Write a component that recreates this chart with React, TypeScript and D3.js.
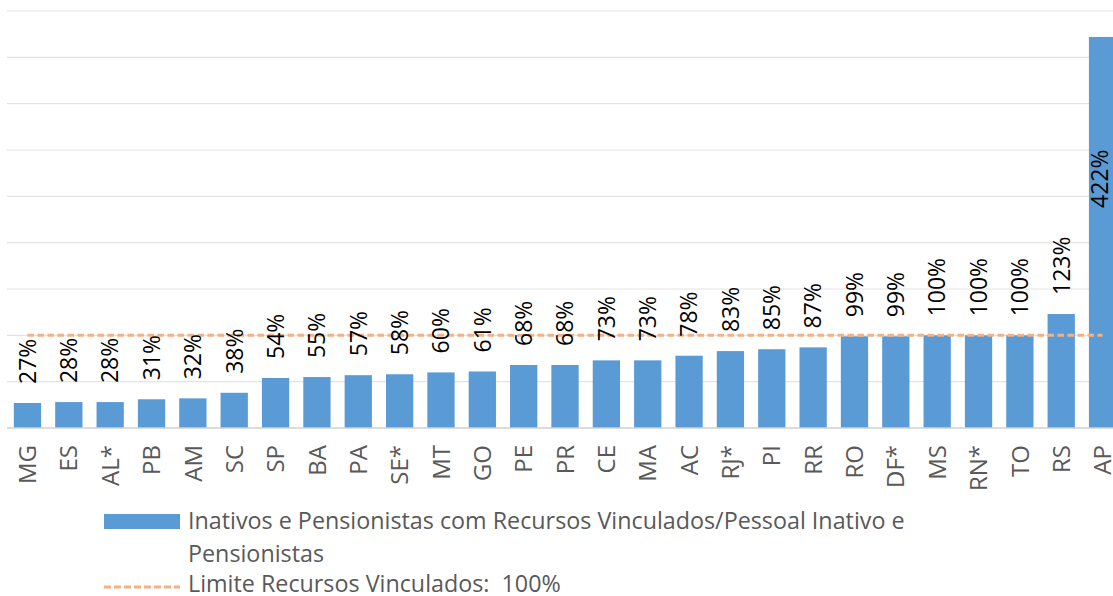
import React from "react";
import * as d3 from "d3";

const categories = ["MG","ES","AL*","PB","AM","SC","SP","BA","PA","SE*","MT","GO","PE","PR","CE","MA","AC","RJ*","PI","RR","RO","DF*","MS","RN*","TO","RS","AP"];
const values = [27,28,28,31,32,38,54,55,57,58,60,61,68,68,73,73,78,83,85,87,99,99,100,100,100,123,422];
const limitValue = 100;
const yTicks = [0,50,100,150,200,250,300,350,400,450];
const legendLine1 = "Inativos e Pensionistas com Recursos Vinculados/Pessoal Inativo e";
const legendLine2 = "Pensionistas";
const legendLine3 = "Limite Recursos Vinculados:  100%";

const W = 1113;
const H = 596;
const FONT = "'Open Sans', 'Noto Sans', sans-serif";
const BAR = "#5B9BD5";
const ORANGE = "#F4B183";

export default function App() {
  const step = 41.35;
  const left = 6.8;
  const x = d3
    .scaleBand<string>()
    .domain(categories)
    .range([left, left + step * categories.length])
    .paddingInner(0.34)
    .paddingOuter(0.17);
  const y = d3.scaleLinear().domain([0, 450]).range([428, 11]);
  const bw = x.bandwidth();
  const cx = (c: string) => (x(c) as number) + bw / 2;
  const plotTop = y(450);

  return (
    <svg
      width={W}
      height={H}
      style={{ position: "absolute", left: 0, top: 0, background: "#fff" }}
      fontFamily={FONT}
    >
      {yTicks.map((t) =>
        t === 0 ? null : (
          <line key={t} x1={7} x2={W} y1={y(t)} y2={y(t)} stroke="#E3E3E3" strokeWidth={1.2} />
        )
      )}
      {categories.map((c, i) => (
        <rect key={c} x={x(c)} y={y(values[i])} width={bw} height={y(0) - y(values[i])} fill={BAR} />
      ))}
      <line x1={7} x2={W} y1={y(0)} y2={y(0)} stroke="#D0D0D0" strokeWidth={1.6} />
      <line
        x1={cx(categories[0])}
        x2={cx(categories[categories.length - 1])}
        y1={y(limitValue)}
        y2={y(limitValue)}
        stroke={ORANGE}
        strokeWidth={3}
        strokeDasharray="6.5,3.5"
      />
      {categories.map((c, i) => {
        let start = y(values[i]) - 19;
        const labelLen = 62;
        let lx = cx(c);
        if (start - labelLen < plotTop) {
          start = y(values[i]) + 171;
          lx = lx - 3;
        }
        return (
          <text
            key={"v" + c}
            transform={`translate(${lx},${start}) rotate(-90)`}
            dy="0.36em"
            fontSize={23}
            fill="#000"
            textAnchor="start"
          >
            {values[i] + "%"}
          </text>
        );
      })}
      {categories.map((c) => (
        <text
          key={"c" + c}
          transform={`translate(${cx(c)},445) rotate(-90)`}
          dy="0.36em"
          fontSize={24}
          fill="#595959"
          textAnchor="end"
        >
          {c}
        </text>
      ))}
      <rect x={104} y={514} width={76} height={15} fill={BAR} />
      <text x={188} y={529} fontSize={23.3} fill="#595959">{legendLine1}</text>
      <text x={188} y={562} fontSize={23.3} fill="#595959">{legendLine2}</text>
      <line x1={104} x2={180} y1={587} y2={587} stroke={ORANGE} strokeWidth={3} strokeDasharray="7,3" />
      <text x={188} y={592} fontSize={23.3} fill="#595959" style={{ whiteSpace: "pre" }}>{legendLine3}</text>
    </svg>
  );
}
